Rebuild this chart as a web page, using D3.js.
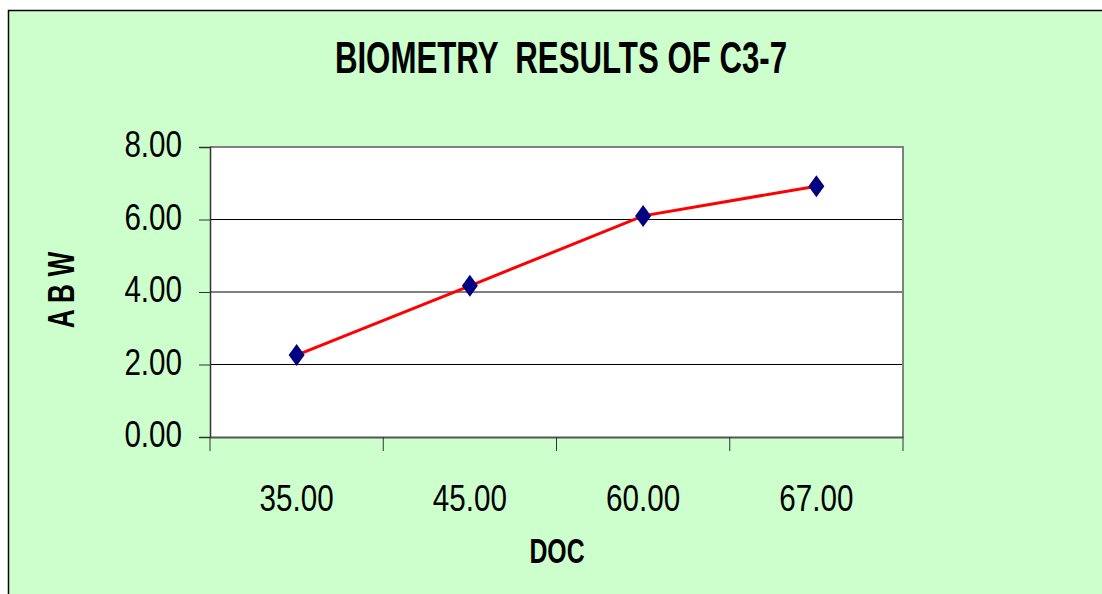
<!DOCTYPE html>
<html>
<head>
<meta charset="utf-8">
<script src="https://cdn.jsdelivr.net/npm/d3@7"></script>
<style>
  body { margin: 0; background: #fff; }
  text { font-family: "Liberation Sans", Arial, sans-serif; }
</style>
</head>
<body>
<div id="chart"></div>
<script>
// chart data
var docLabels = ["35.00", "45.00", "60.00", "67.00"];
var abwValues = [2.26, 4.17, 6.10, 6.92];
var yTicks = [0, 2, 4, 6, 8];

var svgWidth = 1102, svgHeight = 594;
var margin = { top: 147, right: 199, bottom: 157, left: 210 };
var plotW = svgWidth - margin.left - margin.right;
var plotH = svgHeight - margin.top - margin.bottom;

// narrow font look: squeeze text horizontally
var narrow = 0.8, narrowBold = 0.71;

var svg = d3.select("#chart")
    .append("svg")
    .attr("width", svgWidth)
    .attr("height", svgHeight);

// green chart area
svg.append("rect")
    .attr("x", 8.5).attr("y", 10.5)
    .attr("width", svgWidth + 10).attr("height", svgHeight + 10)
    .attr("fill", "#ccffcc")
    .attr("stroke", "#000")
    .attr("stroke-width", 1.5);

var g = svg.append("g")
    .attr("transform", `translate(${margin.left},${margin.top})`);

var x = d3.scaleBand()
    .domain(docLabels)
    .range([0, plotW]);

var y = d3.scaleLinear()
    .domain([0, 8])
    .range([plotH, 0]);

// plot area
g.append("rect")
    .attr("width", plotW).attr("height", plotH)
    .attr("fill", "#fff");

// gridlines
g.selectAll(".grid")
    .data(yTicks.filter(d => d > 0 && d < 8))
    .join("line")
    .attr("x1", 0).attr("x2", plotW)
    .attr("y1", d => y(d)).attr("y2", d => y(d))
    .attr("stroke", "#000").attr("stroke-width", 1);

// plot border (top/right gray)
g.append("path")
    .attr("d", `M0,0H${plotW}V${plotH}`)
    .attr("fill", "none")
    .attr("stroke", "#808080")
    .attr("stroke-width", 2);

// y axis
var yAxis = g.append("g")
    .call(d3.axisLeft(y).tickValues(yTicks).tickSize(11).tickFormat(d3.format(".2f")));
yAxis.select(".domain").attr("stroke", "#333").attr("stroke-width", 1.5);
yAxis.selectAll(".tick line").attr("stroke", "#333");
yAxis.selectAll("text")
    .attr("x", -28 / narrow)
    .attr("dy", "0.27em")
    .attr("transform", `scale(${narrow},1)`)
    .style("font-size", "37px")
    .attr("fill", "#000");

// x axis, ticks at band edges
var xAxis = g.append("g")
    .attr("transform", `translate(0,${plotH})`)
    .call(d3.axisBottom(x).tickSize(0));
xAxis.select(".domain").attr("stroke", "#555").attr("stroke-width", 2);
xAxis.selectAll(".tick text")
    .attr("y", 0).attr("dy", 0)
    .attr("transform", `translate(0,74) scale(${narrow},1)`)
    .style("font-size", "37px")
    .attr("fill", "#000");

g.selectAll(".xtick")
    .data(docLabels.concat(["end"]))
    .join("line")
    .attr("x1", (d, i) => i * x.step()).attr("x2", (d, i) => i * x.step())
    .attr("y1", plotH).attr("y2", plotH + 14)
    .attr("stroke", "#333").attr("stroke-width", 1);

// line
var line = d3.line()
    .x((d, i) => x(docLabels[i]) + x.bandwidth() / 2)
    .y(d => y(d));

g.append("path")
    .datum(abwValues)
    .attr("d", line)
    .attr("fill", "none")
    .attr("stroke", "#ff0000")
    .attr("stroke-width", 3);

// diamond markers
g.selectAll(".pt")
    .data(abwValues)
    .join("path")
    .attr("transform", (d, i) => `translate(${x(docLabels[i]) + x.bandwidth() / 2},${y(d)})`)
    .attr("d", "M0,-11L8,0L0,11L-8,0Z")
    .attr("fill", "#000080");

// title
svg.append("text")
    .attr("transform", `translate(561,73) scale(${narrowBold},1)`)
    .attr("text-anchor", "middle")
    .style("font-size", "44px")
    .style("font-weight", "bold")
    .style("white-space", "pre")
    .attr("xml:space", "preserve")
    .text("BIOMETRY  RESULTS OF C3-7");

// axis titles
svg.append("text")
    .attr("transform", `translate(74,290) rotate(-90) scale(${narrowBold},1)`)
    .attr("text-anchor", "middle")
    .style("font-size", "37px")
    .style("font-weight", "bold")
    .text("A B W");

svg.append("text")
    .attr("transform", `translate(557,563) scale(${narrowBold},1)`)
    .attr("text-anchor", "middle")
    .style("font-size", "35px")
    .style("font-weight", "bold")
    .text("DOC");
</script>
</body>
</html>
